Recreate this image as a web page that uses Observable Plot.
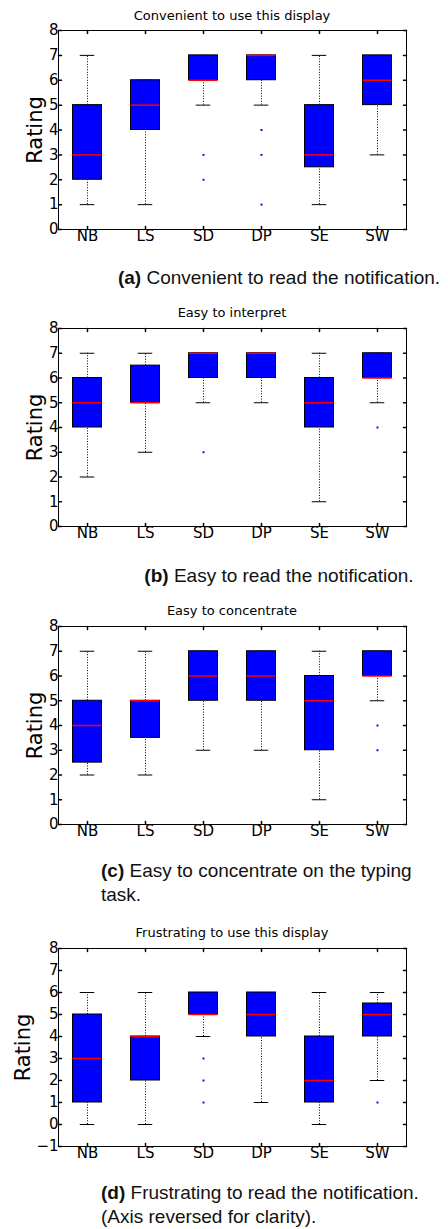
<!DOCTYPE html>
<html><head><meta charset="utf-8">
<script src="https://cdn.jsdelivr.net/npm/d3@7"></script>
<script src="https://cdn.jsdelivr.net/npm/@observablehq/plot@0.6"></script>
<style>
body{margin:0;background:#fff;}
#page{position:relative;width:448px;height:1229px;overflow:hidden;background:#fff;}
.title{position:absolute;left:0;width:464px;text-align:center;font-family:"DejaVu Sans",sans-serif;font-size:13px;line-height:13px;color:#000;white-space:nowrap;}
.cap{position:absolute;font-family:"Liberation Sans",Arial,sans-serif;font-size:19px;line-height:24.4px;color:#111;white-space:nowrap;}
.panel{position:absolute;left:0;}
</style></head><body><div id="page"></div>
<script>
const categories = ["NB", "LS", "SD", "DP", "SE", "SW"];

// (a) Convenient
const aTitle = "Convenient to use this display";
const aLow  = [1, 1, 5, 5, 1, 3];
const aQ1   = [2, 4, 6, 6, 2.5, 5];
const aMed  = [3, 5, 6, 7, 3, 6];
const aQ3   = [5, 6, 7, 7, 5, 7];
const aHigh = [7, 6, 7, 7, 7, 7];
const aFliers = [["SD", 3], ["SD", 2], ["DP", 4], ["DP", 3], ["DP", 1]];

// (b) Easy to interpret
const bTitle = "Easy to interpret";
const bLow  = [2, 3, 5, 5, 1, 5];
const bQ1   = [4, 5, 6, 6, 4, 6];
const bMed  = [5, 5, 7, 7, 5, 6];
const bQ3   = [6, 6.5, 7, 7, 6, 7];
const bHigh = [7, 7, 7, 7, 7, 7];
const bFliers = [["SD", 3], ["SW", 4]];

// (c) Easy to concentrate
const cTitle = "Easy to concentrate";
const cLow  = [2, 2, 3, 3, 1, 5];
const cQ1   = [2.5, 3.5, 5, 5, 3, 6];
const cMed  = [4, 5, 6, 6, 5, 6];
const cQ3   = [5, 5, 7, 7, 6, 7];
const cHigh = [7, 7, 7, 7, 7, 7];
const cFliers = [["SW", 4], ["SW", 3]];

// (d) Frustrating
const dTitle = "Frustrating to use this display";
const dLow  = [0, 0, 4, 1, 0, 2];
const dQ1   = [1, 2, 5, 4, 1, 4];
const dMed  = [3, 4, 5, 5, 2, 5];
const dQ3   = [5, 4, 6, 6, 4, 5.5];
const dHigh = [6, 6, 6, 6, 6, 6];
const dFliers = [["SD", 3], ["SD", 2], ["SD", 1], ["SW", 1]];

const yTicksMain = [0, 1, 2, 3, 4, 5, 6, 7, 8];
const yTicksFrus = [-1, 0, 1, 2, 3, 4, 5, 6, 7, 8];

const captions = [
  {html: "<b>(a)</b> Convenient to read the notification.", top: 266, center: true},
  {html: "<b>(b)</b> Easy to read the notification.", top: 564, center: true},
  {html: "<b>(c)</b> Easy to concentrate on the typing<br>task.", top: 859, center: false},
  {html: "<b>(d)</b> Frustrating to read the notification.<br>(Axis reversed for clarity).", top: 1181, center: false}
];

const panels = [
  {title: aTitle, low: aLow, q1: aQ1, med: aMed, q3: aQ3, high: aHigh, fliers: aFliers, yDomain: [0, 8], yTicks: yTicksMain, T: 30, B: 229, titleY: 15, labelOffset: 31},
  {title: bTitle, low: bLow, q1: bQ1, med: bMed, q3: bQ3, high: bHigh, fliers: bFliers, yDomain: [0, 8], yTicks: yTicksMain, T: 328, B: 526, titleY: 312, labelOffset: 31},
  {title: cTitle, low: cLow, q1: cQ1, med: cMed, q3: cQ3, high: cHigh, fliers: cFliers, yDomain: [0, 8], yTicks: yTicksMain, T: 626, B: 824, titleY: 610, labelOffset: 31},
  {title: dTitle, low: dLow, q1: dQ1, med: dMed, q3: dQ3, high: dHigh, fliers: dFliers, yDomain: [-1, 8], yTicks: yTicksFrus, T: 948, B: 1146, titleY: 932, labelOffset: 43}
];

const tickShape = {draw(context, l) { context.moveTo(0, 0); context.lineTo(0, -l); }};
const positions = categories.map((c, i) => i + 1);

const page = document.getElementById("page");

function panel(p) {
  const rows = categories.map((c, i) => ({cat: c, pos: i + 1, low: p.low[i], q1: p.q1[i], med: p.med[i], q3: p.q3[i], high: p.high[i]}));
  const fl = p.fliers.map(([c, v]) => ({pos: categories.indexOf(c) + 1, v}));
  const mt = 10, mb = 30;
  const chart = Plot.plot({
    width: 448,
    height: p.B - p.T + mt + mb,
    marginLeft: 58, marginRight: 42, marginTop: mt, marginBottom: mb,
    style: {fontFamily: "DejaVu Sans", fontSize: "15px", color: "black", background: "transparent", overflow: "visible"},
    x: {type: "linear", domain: [0.5, 6.5]},
    y: {type: "linear", domain: p.yDomain},
    marks: [
      Plot.ruleX(rows, {x: "pos", y1: "low", y2: "q1", stroke: "black", strokeWidth: 1, strokeDasharray: "1,1.65"}),
      Plot.ruleX(rows, {x: "pos", y1: "q3", y2: "high", stroke: "black", strokeWidth: 1, strokeDasharray: "1,1.65"}),
      Plot.ruleY(rows, {y: "low", x1: d => d.pos - 0.125, x2: d => d.pos + 0.125, stroke: "black"}),
      Plot.ruleY(rows, {y: "high", x1: d => d.pos - 0.125, x2: d => d.pos + 0.125, stroke: "black"}),
      Plot.rect(rows, {x1: d => d.pos - 0.25, x2: d => d.pos + 0.25, y1: "q1", y2: "q3", fill: "#0000ff", stroke: "black", strokeWidth: 1}),
      Plot.ruleY(rows, {y: "med", x1: d => d.pos - 0.25, x2: d => d.pos + 0.25, stroke: "#ff0000", strokeWidth: 1.5}),
      Plot.dot(fl, {x: "pos", y: "v", r: 1.1, symbol: "square", fill: "#0000ff", stroke: "none"}),
      Plot.frame({stroke: "black", strokeWidth: 1}),
      Plot.vector(p.yTicks, {y: d => d, frameAnchor: "left", rotate: 90, length: 3, anchor: "start", shape: tickShape, stroke: "black"}),
      Plot.vector(p.yTicks, {y: d => d, frameAnchor: "right", rotate: 270, length: 3, anchor: "start", shape: tickShape, stroke: "black"}),
      Plot.vector(positions, {x: d => d, frameAnchor: "top", rotate: 180, length: 3, anchor: "start", shape: tickShape, stroke: "black"}),
      Plot.vector(positions, {x: d => d, frameAnchor: "bottom", rotate: 0, length: 3, anchor: "start", shape: tickShape, stroke: "black"}),
      Plot.axisY({ticks: p.yTicks, tickSize: 0, tickPadding: 0, label: null, fontSize: 15}),
      Plot.axisY({ticks: [], tickSize: 0, label: "Rating", labelAnchor: "center", labelArrow: "none", labelOffset: p.labelOffset, fontSize: 21}),
      Plot.axisX({ticks: positions, tickFormat: d => categories[d - 1], tickSize: 0, tickPadding: 1, label: null, fontSize: 15})
    ]
  });
  const wrap = document.createElement("div");
  wrap.className = "panel";
  wrap.style.top = (p.T - mt) + "px";
  wrap.appendChild(chart);
  page.appendChild(wrap);

  const t = document.createElement("div");
  t.className = "title";
  t.style.top = (p.titleY - 6.5) + "px";
  t.textContent = p.title;
  page.appendChild(t);
}

panels.forEach(panel);

captions.forEach(c => {
  const d = document.createElement("div");
  d.className = "cap";
  d.innerHTML = c.html;
  d.style.top = c.top + "px";
  if (c.center) { d.style.left = "101px"; d.style.width = "356px"; d.style.textAlign = "center"; }
  else { d.style.left = "101px"; }
  page.appendChild(d);
});
</script></body></html>
